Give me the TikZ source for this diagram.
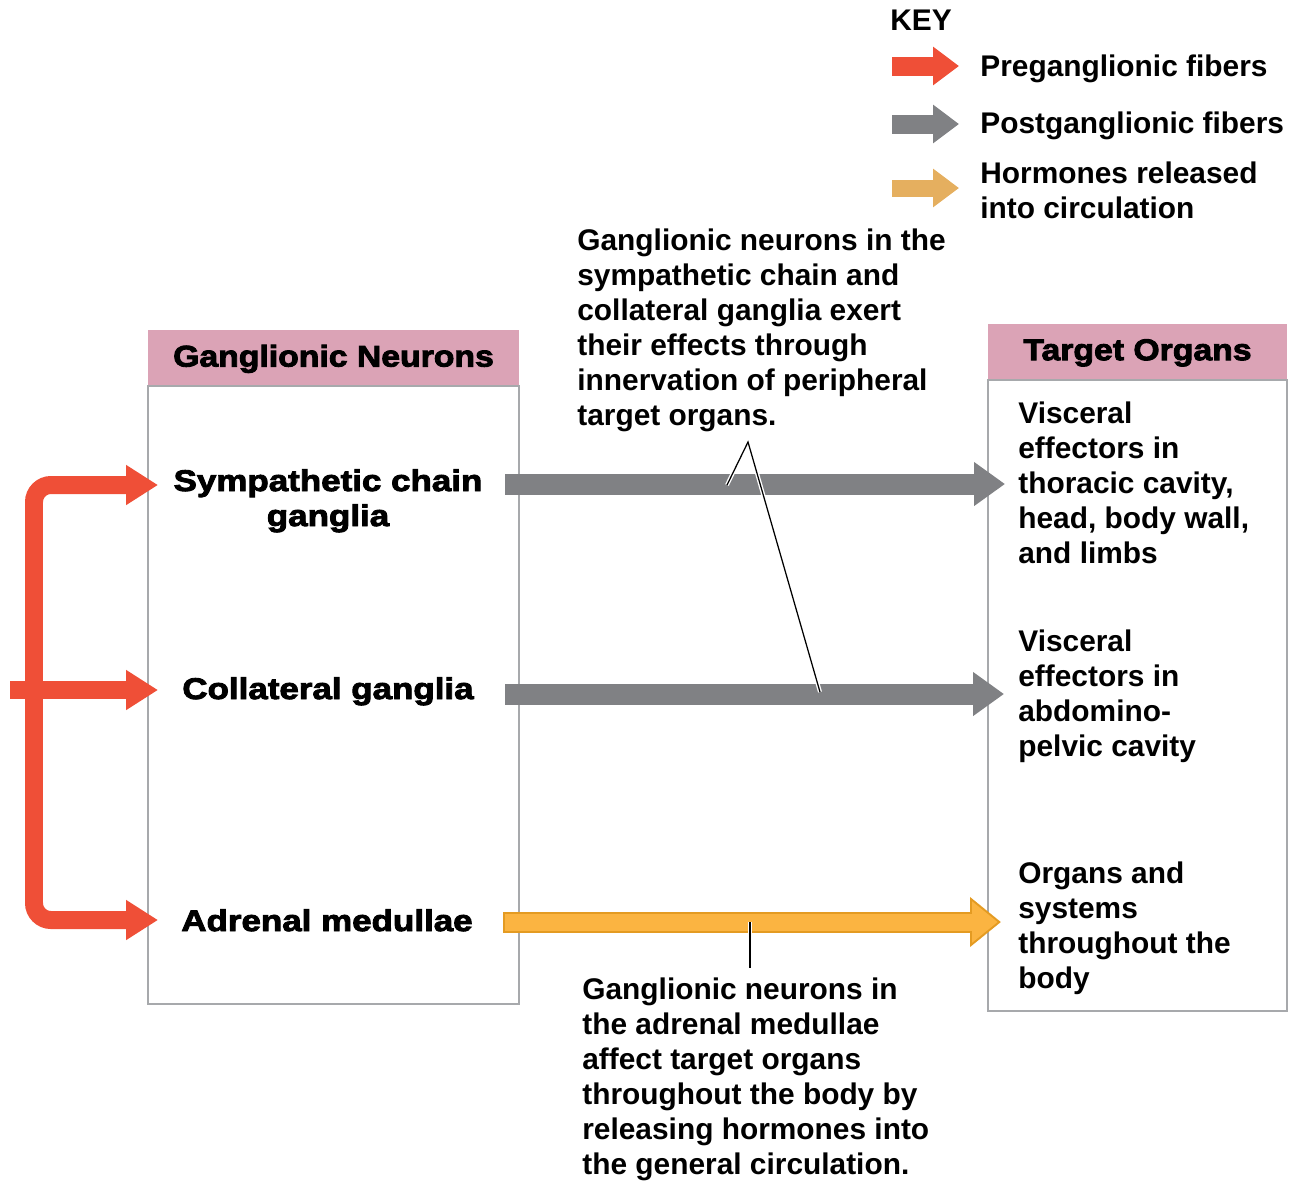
\documentclass[tikz,border=0pt]{standalone}
\usepackage{fontspec}
\setmainfont{Liberation Sans}
\newfontfamily\heavyfont{Liberation Sans Bold}[FakeBold=3,FakeStretch=1.17]
\newfontfamily\headfont{Liberation Sans Bold}[FakeBold=3,FakeStretch=1.13]
\usetikzlibrary{arrows.meta,positioning}
\definecolor{prered}{HTML}{EF4F37}
\definecolor{postgray}{HTML}{808184}
\definecolor{headpink}{HTML}{DBA3B6}
\definecolor{boxgray}{HTML}{A7A9AC}
\definecolor{hormfill}{HTML}{FBB441}
\definecolor{hormedge}{HTML}{E49B22}
\definecolor{keytan}{HTML}{E5AF5F}

\begin{document}
\begin{tikzpicture}[x=0.02cm,y=-0.02cm,font=\bfseries\fontsize{17}{19.92}\selectfont]
\tikzset{
    %Define style for the two panels
    panel/.style={
           rectangle,
           draw=boxgray, line width=0.04cm,
           fill=white,
           },
    headbox/.style={
           rectangle,
           fill=headpink, draw=none,
           minimum height=1.1cm,
           text depth=0.06cm,
           font=\headfont\fontsize{17}{19.92}\selectfont,
           },
    % Define style for the labels
    ganglab/.style={
           anchor=north, align=center, inner sep=0pt,
           font=\heavyfont\fontsize{17}{19.92}\selectfont,
           },
    txt/.style={
           anchor=north west, align=left, inner sep=0pt,
           },
    % Define arrow styles
    pre/.style={
           draw=prered, line width=0.36cm,
           -{Triangle[length=0.64cm,width=0.76cm]},},
    post/.style={
           draw=postgray, line width=0.42cm,
           -{Triangle[length=0.62cm,width=0.84cm]},},
    hormout/.style={
           draw=hormedge, line width=0.42cm,
           -{Triangle[length=0.62cm,width=0.96cm]},},
    hormin/.style={
           draw=hormfill, line width=0.34cm,
           shorten <=0.04cm, shorten >=0.066cm,
           -{Triangle[length=0.514cm,width=0.796cm]},},
    keyarr/.style={
           line width=0.38cm,
           -{Triangle[length=0.52cm,width=0.74cm]},},
    ptr/.style={
           draw=black, line width=0.025cm,
           preaction={draw=white,line width=0.08cm},},
}
\useasboundingbox (0,0) rectangle (1293,1181);

%key
	\node[txt] (keytitle) at (890,10) {KEY};
	\node[txt] (keypre) at (980,54) {Preganglionic fibers};
	\node[txt] (keypost) at (980,111) {Postganglionic fibers};
	\node[txt] (keyhorm) at (980,161) {Hormones released\\into circulation};
	\coordinate (kpre0) at (892,66);   \coordinate (kpre1) at (959,66);
	\coordinate (kpost0) at (892,124); \coordinate (kpost1) at (959,124);
	\coordinate (khorm0) at (892,188); \coordinate (khorm1) at (959,188);
	\draw[keyarr,draw=prered] (kpre0) -- (kpre1);
	\draw[keyarr,draw=postgray] (kpost0) -- (kpost1);
	\draw[keyarr,draw=keytan,line width=0.34cm] (khorm0) -- (khorm1);

%panels
	\node[panel, minimum width=7.42cm, minimum height=12.36cm] (gnbox) at (333.5,695) {};
	\node[headbox, minimum width=7.42cm, above=0pt of gnbox] (gnhead) {Ganglionic Neurons};
	\node[panel, minimum width=5.98cm, minimum height=12.62cm] (tobox) at (1137.5,695.5) {};
	\node[headbox, minimum width=5.98cm, above=0pt of tobox] (tohead) {Target Organs};

%ganglia
	\node[ganglab] (symp) at (328,469) {Sympathetic chain\\ganglia};
	\node[ganglab] (coll) at (328,677) {Collateral ganglia};
	\node[ganglab] (adren) at (327,909) {Adrenal medullae};

%targets
	\node[txt] (thorax) at (1018,401) {Visceral\\effectors in\\thoracic cavity,\\head, body wall,\\and limbs};
	\node[txt] (abdomen) at (1018,629) {Visceral\\effectors in\\abdomino-\\pelvic cavity};
	\node[txt] (body) at (1018,861) {Organs and\\systems\\throughout the\\body};

%notes
	\node[txt] (notetop) at (577,228) {Ganglionic neurons in the\\sympathetic chain and\\collateral ganglia exert\\their effects through\\innervation of peripheral\\target organs.};
	\node[txt] (notebot) at (582,977) {Ganglionic neurons in\\the adrenal medullae\\affect target organs\\throughout the body by\\releasing hormones into\\the general circulation.};

%arrow ends
	\coordinate (sympin) at (158,485);
	\coordinate (spine) at (34,690);
	\coordinate (collin) at (158,690);
	\coordinate (adrin) at (158,920);
	\coordinate (prein) at (10,690);
	\coordinate (sympout) at (505,484);
	\coordinate (thoraxin) at (1005,484);
	\coordinate (collout) at (505,694);
	\coordinate (abdomenin) at (1004,694);
	\coordinate (adrout) at (503,922);
	\coordinate (bodyin) at (1001,922);

	\draw[pre,{Triangle[length=0.64cm,width=0.76cm]}-{Triangle[length=0.64cm,width=0.76cm]},rounded corners=0.34cm] (sympin) -| (spine) |- (adrin);
	\draw[pre] (prein) -- (collin);
	\draw[post] (sympout) -- (thoraxin);
	\draw[post] (collout) -- (abdomenin);
	\draw[hormout] (adrout) -- (bodyin);
	\draw[hormin] (adrout) -- (bodyin);

%pointers
	\coordinate (apex) at (748,442);
	\coordinate (ptrsymp) at (727,485);
	\coordinate (ptrcoll) at (820,692);
	\coordinate (ptradr) at (750,922);
	\draw[ptr] (ptrsymp) -- (apex) -- (ptrcoll);
	\draw[ptr] (ptradr) -- (ptradr |- 0,968);

\end{tikzpicture}
\end{document}
